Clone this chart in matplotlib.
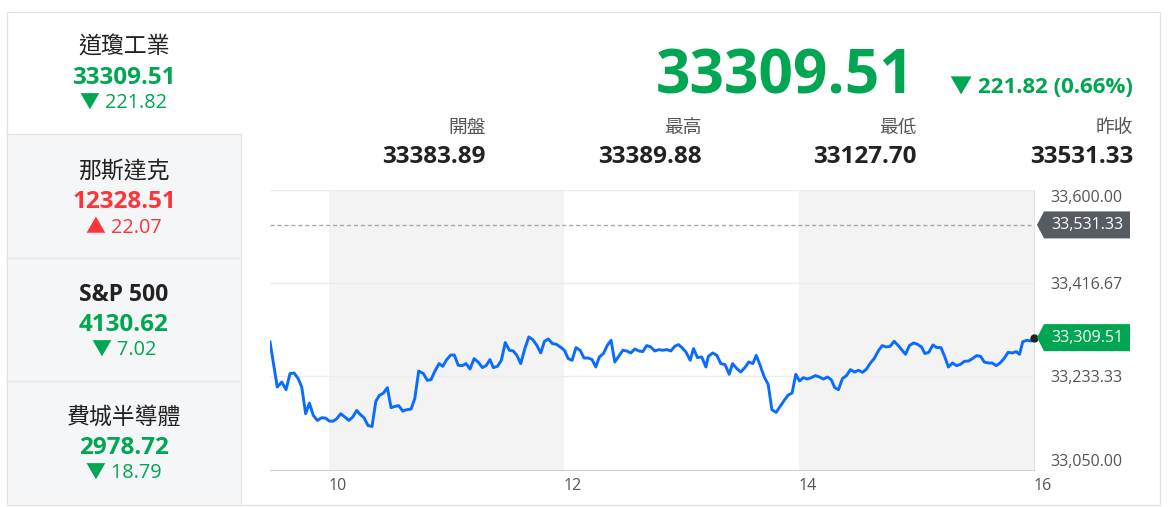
import numpy as np
import matplotlib
matplotlib.use("Agg")
import matplotlib.pyplot as plt
import matplotlib.transforms as mtransforms
from matplotlib.patches import Rectangle, Polygon

plt.rcParams['font.family'] = ['Open Sans', 'Noto Sans CJK TC', 'DejaVu Sans']

# minutes after 9:30 and Dow index values
minutes = [0, 3.7, 6, 8.2, 10.2, 12.3, 14.4, 16.2, 18.2, 20.1, 22.1, 24.2, 26.4, 28.4, 30.3,
           32.3, 34.1, 36.1, 38.3, 40.2, 42.2, 44.3, 46, 48, 50, 52.1, 54, 55.8, 57.9, 59.9,
           61.8, 63.8, 65.7, 67.8, 69.8, 72, 73.9, 75.9, 78.3, 80.3, 82.2, 84.2, 86.3, 88.2,
           90.2, 92.3, 94.1, 96.1, 98.2, 100.1, 102.1, 104.2, 106.4, 108.4, 110.3, 112.3,
           114, 116.1, 118.1, 120.1, 122.2, 124.2, 126, 128, 130.1, 132.1, 134.1, 136.2,
           138.2, 140.1, 142.1, 144.1, 146.2, 148.2, 150.3, 152.2, 154.2, 156.2, 158.3,
           160.3, 162.4, 164.4, 166.3, 168.1, 170.2, 172.2, 174.1, 176, 178, 180.1, 182.1,
           184.2, 186.2, 188.3, 190.3, 192.3, 194.4, 196.4, 198.5, 200.5, 202.6, 204.6,
           206.6, 208.5, 210.5, 212.4, 214.5, 216.2, 218.2, 220.4, 222.5, 223.8, 226, 228.1,
           230.1, 232.3, 234.4, 236.1, 238.3, 240.3, 242.4, 244.4, 246.5, 248.2, 250.2,
           252.3, 254.3, 256.2, 258.4, 260.4, 262.5, 264.5, 266.5, 268.4, 270.3, 272.3,
           274.3, 276.4, 278.4, 280.5, 282.5, 284.6, 286.5, 288.3, 290.2, 292.2, 294.3,
           296.3, 298.4, 300.4, 302.5, 304.5, 306.5, 308.4, 310.5, 312.5, 314.5, 316.6,
           318.6, 320.7, 322.7, 324.4, 326.4, 328.5, 330.5, 332.6, 334.3, 336.3, 338.4,
           340.4, 342.5, 344.5, 346.3, 348.4, 350.4, 352.5, 354.5, 356.6, 358.6, 360.7,
           362.7, 364.6, 366.6, 368.7, 370.7, 372.7, 374.8, 376.8, 378.9, 380.9, 382.6,
           384.3, 386.4, 388.4, 390]
dow = [33301.0, 33212.3, 33222.1, 33207.1, 33238.7, 33239.9, 33228.8, 33212.2, 33159.8,
       33180.7, 33156.5, 33146.6, 33151.9, 33151.1, 33145.2, 33145.2, 33150.0, 33159.8,
       33153.1, 33146.6, 33153.1, 33166.3, 33158.5, 33151.9, 33136.7, 33134.7, 33184.0,
       33195.7, 33200.4, 33211.1, 33171.6, 33174.2, 33175.6, 33164.9, 33167.7, 33168.9,
       33189.4, 33243.8, 33238.7, 33225.5, 33226.8, 33243.8, 33258.4, 33253.0, 33266.3,
       33275.3, 33275.3, 33255.0, 33254.4, 33258.4, 33247.7, 33268.2, 33260.9, 33250.5,
       33254.4, 33266.3, 33250.5, 33253.0, 33264.9, 33299.8, 33284.6, 33283.2, 33274.7,
       33258.4, 33287.9, 33310.8, 33305.7, 33294.4, 33279.3, 33302.3, 33306.9, 33297.8,
       33296.4, 33291.1, 33284.6, 33268.2, 33264.9, 33289.9, 33284.6, 33269.4, 33269.4,
       33266.3, 33251.7, 33271.4, 33278.1, 33294.4, 33304.3, 33261.5, 33272.8, 33284.6,
       33283.2, 33279.3, 33287.2, 33283.2, 33282.0, 33293.9, 33291.1, 33283.2, 33285.9,
       33284.6, 33285.9, 33283.2, 33292.5, 33295.8, 33289.1, 33280.6, 33264.9, 33287.9,
       33270.2, 33271.4, 33251.7, 33272.8, 33279.3, 33274.7, 33258.4, 33256.4, 33237.3,
       33258.4, 33248.5, 33241.8, 33250.5, 33261.5, 33258.4, 33274.7, 33255.0, 33232.0,
       33217.6, 33167.7, 33162.4, 33174.2, 33186.0, 33196.5, 33200.4, 33237.3, 33224.1,
       33230.8, 33228.0, 33230.8, 33234.8, 33232.0, 33228.0, 33232.0, 33226.8, 33211.1,
       33207.1, 33228.8, 33234.8, 33246.6, 33241.8, 33245.2, 33241.2, 33247.7, 33259.6,
       33268.2, 33283.2, 33293.9, 33291.1, 33292.5, 33302.3, 33293.9, 33284.6, 33276.7,
       33293.9, 33299.0, 33296.4, 33291.1, 33278.1, 33280.6, 33295.0, 33289.9, 33289.9,
       33271.4, 33251.7, 33259.6, 33254.4, 33257.0, 33262.9, 33263.5, 33268.2, 33274.1,
       33272.8, 33261.5, 33259.6, 33259.6, 33254.4, 33259.6, 33268.8, 33280.6, 33279.3,
       33282.0, 33276.7, 33301.7, 33304.3, 33302.9, 33309.51]

prev_close = 33531.33
last = 33309.51
yticks = [33050.00, 33233.33, 33416.67, 33600.00]
xticks = [10, 12, 14, 16]

# header block
head_labels = ['開盤', '最高', '最低', '昨收']
head_values = ['33383.89', '33389.88', '33127.70', '33531.33']

# left side list
names = ['道瓊工業', '那斯達克', 'S&P 500', '費城半導體']
prices = ['33309.51', '12328.51', '4130.62', '2978.72']
changes = ['▼ 221.82', '▲ 22.07', '▼ 7.02', '▼ 18.79']
updown = ['down', 'up', 'down', 'down']

GREEN = '#00a651'
RED = '#ff333a'
BLUE = '#0a6cff'
W, H = 1168, 507

fig = plt.figure(figsize=(W / 100, H / 100), dpi=100)


def fx(x):
    return x / W


def fy(y):
    return 1 - y / H


# outer frame and left panel (behind the chart axes)
fig.add_artist(Rectangle((fx(7), fy(505)), fx(1153), 493 / H, transform=fig.transFigure,
                         facecolor='white', edgecolor='#e3e3e3', lw=1, zorder=-3))
fig.add_artist(Rectangle((fx(7.5), fy(504.5)), fx(233.5), 370.5 / H, transform=fig.transFigure,
                         facecolor='#f5f6f8', edgecolor='none', zorder=-2))
fig.add_artist(plt.Line2D([fx(241), fx(241)], [fy(134), fy(505)], transform=fig.transFigure,
                          color='#e6e6e6', lw=1, zorder=-1))
for sy in [134, 258, 381]:
    fig.add_artist(plt.Line2D([fx(7), fx(241)], [fy(sy), fy(sy)], transform=fig.transFigure,
                              color='#e6e6e6', lw=1, zorder=-1))

cell_top = [48, 172, 295, 418]
for i in range(4):
    c = GREEN if updown[i] == 'down' else RED
    fig.text(fx(124), fy(cell_top[i]), names[i], ha='center', va='center', fontsize=16.5,
             color='#222222', fontweight='bold' if names[i].startswith('S&P') else 'medium')
    fig.text(fx(124), fy(cell_top[i] + 30), prices[i], ha='center', va='center', fontsize=17.5,
             color=c, fontweight='bold')
    fig.text(fx(124), fy(cell_top[i] + 56), changes[i], ha='center', va='center', fontsize=14.3,
             color=c)

# header
fig.text(fx(785), fy(93), '33309.51', ha='center', va='baseline', fontsize=43.5,
         fontweight='bold', color=GREEN)
fig.text(fx(1133), fy(93), '▼ 221.82 (0.66%)', ha='right', va='baseline', fontsize=16,
         fontweight='bold', color=GREEN)
head_x = [486, 702, 917, 1133]
for i in range(4):
    fig.text(fx(head_x[i]), fy(128), head_labels[i], ha='right', va='center', fontsize=13.5,
             color='#555555')
    fig.text(fx(head_x[i]), fy(157), head_values[i], ha='right', va='center', fontsize=17.5,
             fontweight='bold', color='#222222')

# chart
ax = fig.add_axes([fx(270), fy(469.5), 764 / W, 279.5 / H])
hours = [9.5 + m / 60 for m in minutes]
ax.axvspan(10, 12, color='#f3f3f3', lw=0, zorder=0)
ax.axvspan(14, 16, color='#f3f3f3', lw=0, zorder=0)
for t in yticks[1:]:
    ax.axhline(t, color='#ececec', lw=1, zorder=1)
ax.axhline(prev_close, color='#aaaaaa', lw=1, ls=(0, (3, 2)), zorder=2)
ax.plot(hours, dow, color=BLUE, lw=2.1, zorder=3, solid_joinstyle='round')
ax.plot(hours[-1], dow[-1], 'o', color='#222222', ms=5, zorder=4, clip_on=False)
ax.set_xlim(9.5, 16)
ax.set_ylim(33050, 33600)
ax.set_facecolor('none')
for s in ['left', 'top']:
    ax.spines[s].set_visible(False)
ax.spines['bottom'].set_color('#cfcfd4')
ax.spines['right'].set_color('#e4e4e8')
ax.set_xticks(xticks)
ax.set_xticklabels([str(t) for t in xticks], ha='left', fontsize=11.5, color='#555555')
ax.yaxis.tick_right()
ax.set_yticks(yticks)
ax.set_yticklabels(['{:,.2f}'.format(t) for t in yticks], ha='left', fontsize=11.5,
                   color='#555555')
ax.tick_params(length=0)
ax.tick_params(axis='y', pad=12)
ax.tick_params(axis='x', pad=6)
ylabs = ax.get_yticklabels()
ylabs[0].set_va('bottom')
ylabs[-1].set_va('top')

# price tags on the right edge
fig.canvas.draw()
bt = mtransforms.blended_transform_factory(ax.transAxes, ax.transData)
for val, col in [(prev_close, '#575c63'), (last, GREEN)]:
    px, py = bt.transform((1, val))
    verts = [(px + 3, py), (px + 10, py + 13.5), (px + 96, py + 13.5),
             (px + 96, py - 13.5), (px + 10, py - 13.5)]
    fig.add_artist(Polygon(verts, closed=True, transform=mtransforms.IdentityTransform(),
                           facecolor=col, edgecolor='none', zorder=5))
    fig.text((px + 17) / W, py / H, '{:,.2f}'.format(val), ha='left', va='center',
             fontsize=11.5, color='white', zorder=6)

fig.savefig('out.png', dpi=100)
